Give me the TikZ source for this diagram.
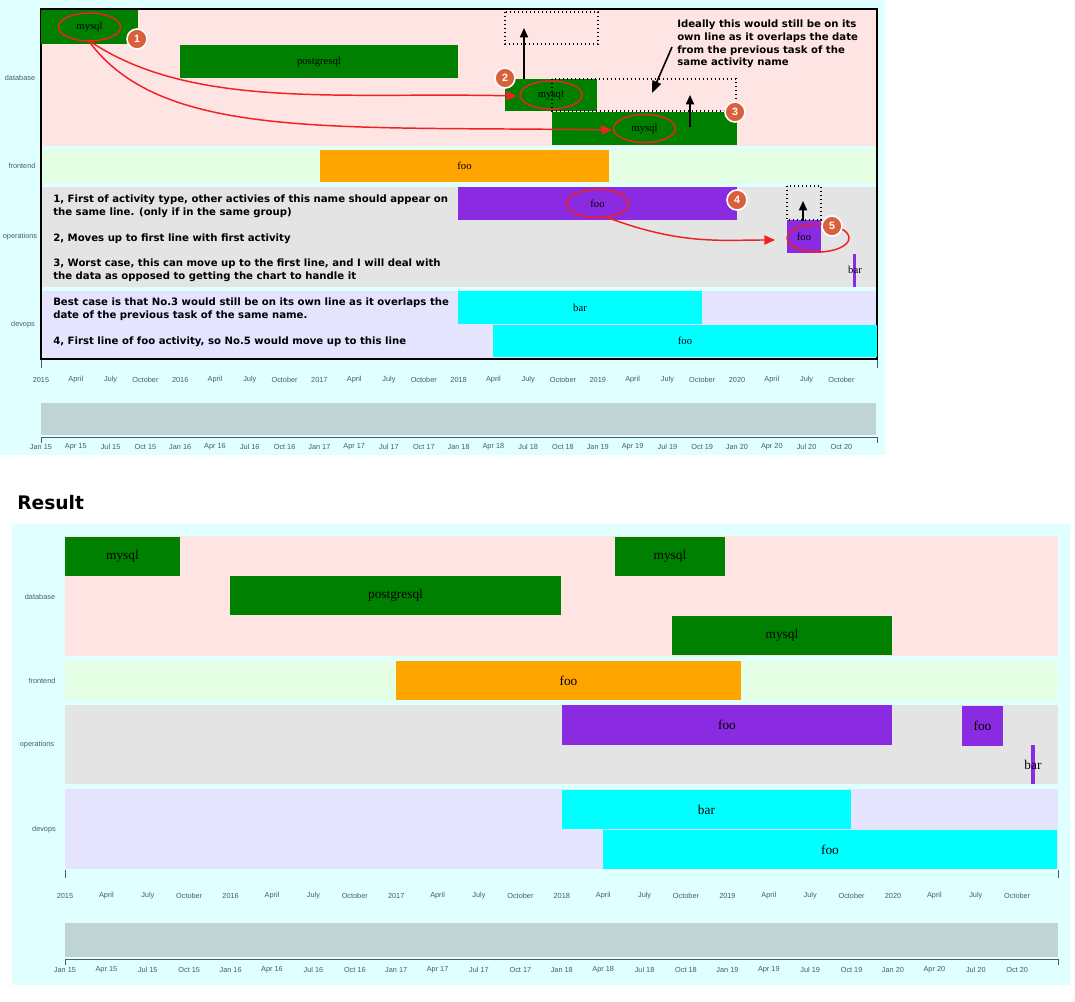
\documentclass[tikz,border=0pt]{standalone}
\usepackage{fontspec}
\setmainfont{Liberation Serif}
\setsansfont{Liberation Sans}
\newfontfamily\notefont{DejaVu Sans}
\usetikzlibrary{calc,arrows.meta}

\definecolor{panelbg}{HTML}{E0FFFF}
\definecolor{dbbg}{HTML}{FFE4E4}
\definecolor{febg}{HTML}{E4FFE4}
\definecolor{opbg}{HTML}{E4E4E4}
\definecolor{dvbg}{HTML}{E4E4FF}
\definecolor{slider}{HTML}{C0D4D4}
\definecolor{taskgreen}{HTML}{008000}
\definecolor{taskorange}{HTML}{FFA500}
\definecolor{taskpurple}{HTML}{8A2BE2}
\definecolor{taskcyan}{HTML}{00FFFF}
\definecolor{badge}{HTML}{D9603B}
\definecolor{grouptext}{HTML}{4A5A6A}
\definecolor{marker}{HTML}{EE2222}

\tikzset{
  tasklabel/.style={font=\fontsize{8}{9}\selectfont},
  bigtasklabel/.style={font=\fontsize{10}{11}\selectfont},
  grouplabel/.style={font=\sffamily\fontsize{5.5}{6}\selectfont,text=grouptext},
  ticklabel/.style={font=\sffamily\fontsize{5.5}{6}\selectfont,text=grouptext},
  badgenum/.style={circle,fill=badge,draw=white,line width=1.2pt,text=white,
    font=\sffamily\bfseries\fontsize{8}{8}\selectfont,inner sep=0pt,minimum size=15pt},
  ring/.style={draw=marker,line width=1.1pt},
  pointer/.style={draw=marker,line width=1.1pt,-{Triangle[length=8pt,width=7pt]}},
  liftarrow/.style={draw=black,line width=1.3pt,-{Triangle[length=7pt,width=6pt]}},
  ghost/.style={draw=black,line width=1pt,dotted},
  note/.style={font=\notefont\bfseries\fontsize{7.6}{9.4}\selectfont,anchor=north west,align=left,inner sep=0pt},
}

% task bar: name, x1, y1, x2, y2, colour, label, label style
\newcommand{\taskbar}[8]{%
  \fill[#6] (#2,#3) rectangle (#4,#5);
  \node[#8] (#1) at ($(#2,#3)!0.5!(#4,#5)$) {#7};}

\begin{document}
\begin{tikzpicture}[x=0.75pt,y=-0.75pt]
\useasboundingbox (0,0) rectangle (1075,1002);
\fill[white] (0,0) rectangle (1075,1002);

% ---------- top chart ----------
\fill[panelbg] (0,0) rectangle (885,455);
\fill[dbbg] (41,9) rectangle (877,146);
\fill[febg] (41,150) rectangle (877,183);
\fill[opbg] (41,187) rectangle (877,287);
\fill[dvbg] (41,291) rectangle (877,358);
\draw[line width=1.4pt] (41,9) rectangle (877,359);

\node[grouplabel] (gdb) at (20,78) {database};
\node[grouplabel] (gfe) at (22,166) {frontend};
\node[grouplabel] (gop) at (20,237) {operations};
\node[grouplabel] (gdv) at (23,325) {devops};

\taskbar{mysqlA}{41}{10}{138}{44}{taskgreen}{mysql}{tasklabel}
\taskbar{pgA}{180}{45}{458}{78}{taskgreen}{postgresql}{tasklabel}
\taskbar{mysqlB}{505}{79}{597}{111}{taskgreen}{mysql}{tasklabel}
\taskbar{mysqlC}{552}{112}{737}{145}{taskgreen}{mysql}{tasklabel}
\taskbar{feA}{320}{150}{609}{182}{taskorange}{foo}{tasklabel}
\taskbar{opA}{458}{187}{737}{220}{taskpurple}{foo}{tasklabel}
\taskbar{opB}{787}{220}{821}{253}{taskpurple}{foo}{tasklabel}
\fill[taskpurple] (853,254) rectangle (856,287);
\node[tasklabel] (opC) at (855,270) {bar};
\taskbar{dvA}{458}{291}{702}{324}{taskcyan}{bar}{tasklabel}
\taskbar{dvB}{493}{325}{877}{357}{taskcyan}{foo}{tasklabel}

% axis
\draw[grouptext,line width=0.6pt] (41,360) -- (41,368) (877,360) -- (877,368);
\foreach \yr [count=\i from 0] in {2015,...,2020}{
  \pgfmathsetmacro{\xa}{41+139.2*\i}
  \node[ticklabel] (ta\i) at (\xa,380) {\yr};
  \node[ticklabel] at (\xa+34.8,380) {April};
  \node[ticklabel] at (\xa+69.6,380) {July};
  \node[ticklabel] at (\xa+104.4,380) {October};
}
\fill[slider] (41,403) rectangle (876,435);
\draw[grouptext,line width=0.6pt] (41,437) -- (877,437) (41,437) -- (41,443) (877,437) -- (877,443);
\foreach \yy [count=\i from 0] in {15,...,20}{
  \pgfmathsetmacro{\xa}{41+139.2*\i}
  \node[ticklabel] at (\xa,447) {Jan \yy};
  \node[ticklabel] at (\xa+34.8,447) {Apr \yy};
  \node[ticklabel] at (\xa+69.6,447) {Jul \yy};
  \node[ticklabel] at (\xa+104.4,447) {Oct \yy};
}

% notes
\node[note] (noteA) at (53,195) {1, First of activity type, other activies of this name should appear on\\the same line. (only if in the same group)};
\node[note] (noteB) at (53,234) {2, Moves up to first line with first activity};
\node[note] (noteC) at (53,259) {3, Worst case, this can move up to the first line, and I will deal with\\the data as opposed to getting the chart to handle it};
\node[note] (noteD) at (53,298) {Best case is that No.3 would still be on its own line as it overlaps the\\date of the previous task of the same name.};
\node[note] (noteE) at (53,337) {4, First line of foo activity, so No.5 would move up to this line};
\node[note] (noteF) at (677,20) {Ideally this would still be on its\\own line as it overlaps the date\\from the previous task of the\\same activity name};

% ghost slots and lift arrows
\draw[ghost] (505,12) rectangle (598,44);
\draw[ghost] (552,79) rectangle (736,111);
\draw[ghost] (787,186) rectangle (821,220);
\coordinate (liftA) at (524,79);
\coordinate (liftAend) at (524,28);
\coordinate (liftB) at (690,127);
\coordinate (liftBend) at (690,95);
\coordinate (liftC) at (803,221);
\coordinate (liftCend) at (803,201);
\draw[liftarrow] (liftA) -- (liftAend);
\draw[liftarrow] (liftB) -- (liftBend);
\draw[liftarrow] (liftC) -- (liftCend);
\coordinate (noteFtip) at (652,93);
\draw[line width=1.2pt,-{Triangle[length=9pt,width=7pt]}] (672,47) -- (noteFtip);

% red rings and pointers
\draw[ring] (mysqlA) ellipse (31 and 14);
\draw[ring] (mysqlB) ellipse (31 and 14);
\draw[ring] (mysqlC) ellipse (31 and 14);
\draw[ring] (opA) ellipse (31 and 14);
\draw[ring] (818,238) ellipse (31 and 14);
\coordinate (ringAbot) at (88,40);
\draw[pointer] (ringAbot) .. controls (190,110) and (340,92) .. (517,96);
\draw[pointer] (ringAbot) .. controls (160,140) and (330,126) .. (612,130);
\draw[pointer] (606,217) .. controls (680,245) and (720,240) .. (775,240);

\node[badgenum] (b1) at (137,39) {1};
\node[badgenum] (b2) at (505,78) {2};
\node[badgenum] (b3) at (735,112) {3};
\node[badgenum] (b4) at (737,200) {4};
\node[badgenum] (b5) at (832,226) {5};

% ---------- result chart ----------
\node[font=\notefont\bfseries\fontsize{14}{16}\selectfont,anchor=west,inner sep=0pt] (title) at (17,503) {Result};
\fill[panelbg] (12,524) rectangle (1070,985);
\fill[dbbg] (65,536) rectangle (1058,656);
\fill[febg] (65,661) rectangle (1058,700);
\fill[opbg] (65,705) rectangle (1058,784);
\fill[dvbg] (65,789) rectangle (1058,869);

\node[grouplabel] (rdb) at (40,597) {database};
\node[grouplabel] (rfe) at (42,681) {frontend};
\node[grouplabel] (rop) at (37,745) {operations};
\node[grouplabel] (rdv) at (44,830) {devops};

\taskbar{rmysqlA}{65}{537}{180}{576}{taskgreen}{mysql}{bigtasklabel}
\taskbar{rmysqlB}{615}{537}{725}{576}{taskgreen}{mysql}{bigtasklabel}
\taskbar{rpgA}{230}{576}{561}{615}{taskgreen}{postgresql}{bigtasklabel}
\taskbar{rmysqlC}{672}{616}{892}{655}{taskgreen}{mysql}{bigtasklabel}
\taskbar{rfeA}{396}{661}{741}{700}{taskorange}{foo}{bigtasklabel}
\taskbar{ropA}{562}{705}{892}{745}{taskpurple}{foo}{bigtasklabel}
\taskbar{ropB}{962}{706}{1003}{746}{taskpurple}{foo}{bigtasklabel}
\fill[taskpurple] (1031,745) rectangle (1035,784);
\node[bigtasklabel] (ropC) at (1033,765) {bar};
\taskbar{rdvA}{562}{790}{851}{829}{taskcyan}{bar}{bigtasklabel}
\taskbar{rdvB}{603}{830}{1057}{869}{taskcyan}{foo}{bigtasklabel}

\draw[grouptext,line width=0.6pt] (65,870) -- (65,878) (1058,870) -- (1058,878);
\foreach \yr [count=\i from 0] in {2015,...,2020}{
  \pgfmathsetmacro{\xa}{65+165.6*\i}
  \node[ticklabel] (rta\i) at (\xa,896) {\yr};
  \node[ticklabel] at (\xa+41.4,896) {April};
  \node[ticklabel] at (\xa+82.8,896) {July};
  \node[ticklabel] at (\xa+124.2,896) {October};
}
\fill[slider] (65,923) rectangle (1058,957);
\draw[grouptext,line width=0.6pt] (65,959) -- (1058,959) (65,959) -- (65,965) (1058,959) -- (1058,965);
\foreach \yy [count=\i from 0] in {15,...,20}{
  \pgfmathsetmacro{\xa}{65+165.6*\i}
  \node[ticklabel] at (\xa,970) {Jan \yy};
  \node[ticklabel] at (\xa+41.4,970) {Apr \yy};
  \node[ticklabel] at (\xa+82.8,970) {Jul \yy};
  \node[ticklabel] at (\xa+124.2,970) {Oct \yy};
}
\end{tikzpicture}
\end{document}
